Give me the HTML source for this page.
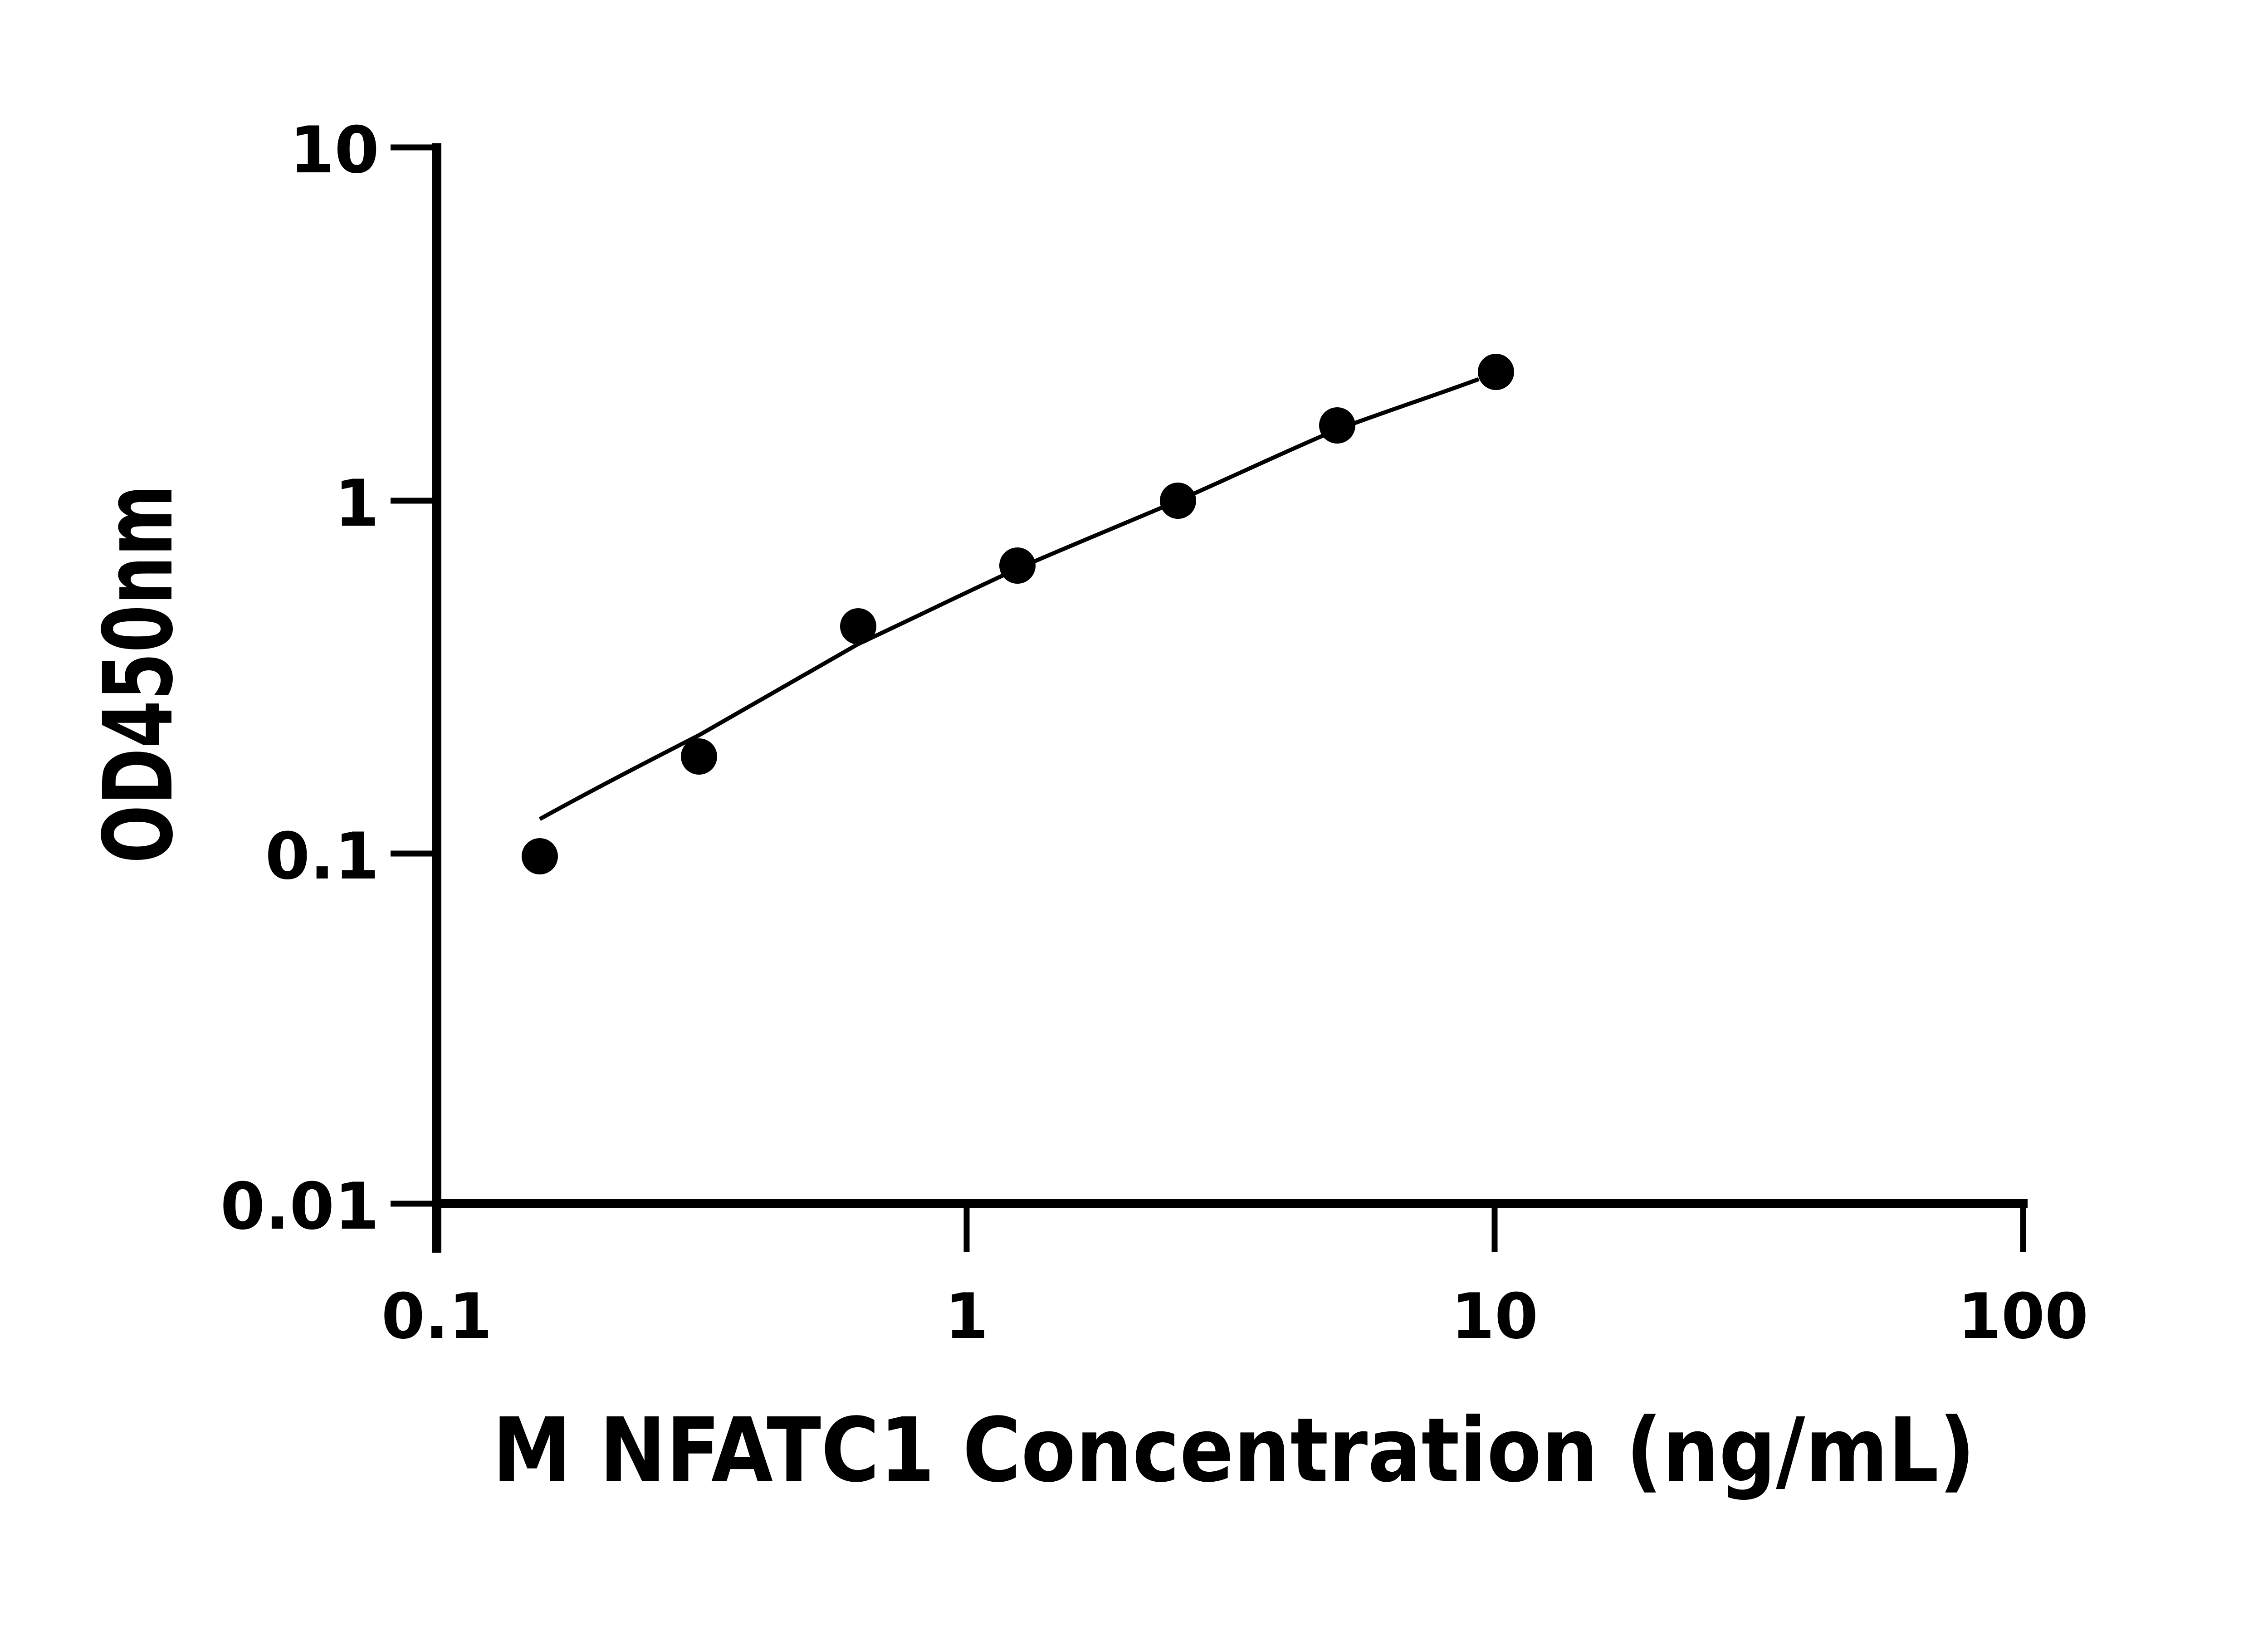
<!DOCTYPE html>
<html><head><style>html,body{margin:0;padding:0;background:#fff}</style></head>
<body>
<svg width="5142" height="3600" viewBox="0 0 5142 3600" xmlns="http://www.w3.org/2000/svg" font-family="'DejaVu Sans', 'Liberation Sans', sans-serif" font-weight="bold">
<rect width="5142" height="3600" fill="#fff"/>
<g stroke="#000" fill="none">
<line x1="963" y1="316" x2="963" y2="2762" stroke-width="20"/>
<line x1="953" y1="2654" x2="4470" y2="2654" stroke-width="20"/>
<g stroke-width="13">
<line x1="861" y1="325" x2="963" y2="325"/>
<line x1="861" y1="1104" x2="963" y2="1104"/>
<line x1="861" y1="1882" x2="963" y2="1882"/>
<line x1="861" y1="2654" x2="963" y2="2654"/>
<line x1="2131" y1="2654" x2="2131" y2="2760"/>
<line x1="3295" y1="2654" x2="3295" y2="2760"/>
<line x1="4460" y1="2654" x2="4460" y2="2760"/>
</g>
<path stroke-width="9" d="M1190,1806 C1300,1745 1420,1683 1541,1621 C1660,1553 1780,1485 1892,1420 C2010,1365 2125,1308 2243,1254 C2360,1203 2480,1154 2597,1104 C2715,1052 2830,997 2948,947 C3055,907 3160,873 3260,836"/>
</g>
<g fill="#000">
<circle cx="1190" cy="1888" r="40"/>
<circle cx="1541" cy="1668" r="40"/>
<circle cx="1892" cy="1381" r="40"/>
<circle cx="2243" cy="1247" r="40"/>
<circle cx="2597" cy="1104" r="40"/>
<circle cx="2948" cy="938" r="40"/>
<circle cx="3298" cy="820" r="40"/>
</g>
<g font-size="142" text-anchor="end">
<text x="836" y="380">10</text>
<text x="836" y="1159">1</text>
<text x="836" y="1937">0.1</text>
<text x="836" y="2709">0.01</text>
</g>
<g font-size="138" text-anchor="middle">
<text x="963" y="2950">0.1</text>
<text x="2131" y="2950">1</text>
<text x="3295" y="2950">10</text>
<text x="4460" y="2950">100</text>
</g>
<text x="2720" y="3265" font-size="195" text-anchor="middle" textLength="3269" lengthAdjust="spacingAndGlyphs">M NFATC1 Concentration (ng/mL)</text>
<text transform="translate(378,1486) rotate(-90)" font-size="210" text-anchor="middle" textLength="835" lengthAdjust="spacingAndGlyphs">OD450nm</text>
</svg>
</body></html>
